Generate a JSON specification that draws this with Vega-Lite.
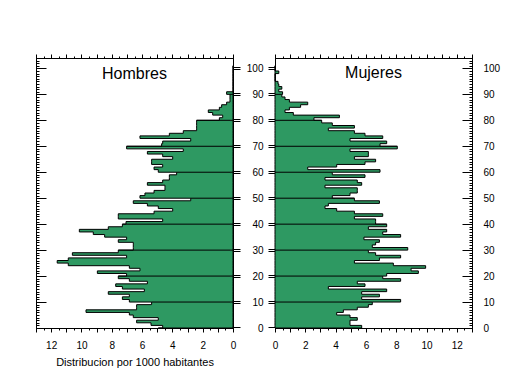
{
  "$schema": "https://vega.github.io/schema/vega-lite/v6.json",
  "padding": {"left": 35, "top": 52, "right": 0, "bottom": 0},
  "background": "white",
  "spacing": 42,
  "bounds": "flush",
  "config": {
    "view": {"stroke": "black", "strokeWidth": 1},
    "font": "Liberation Sans",
    "axis": {"domainColor": "black", "tickColor": "black", "labelColor": "black", "labelFont": "Liberation Sans", "labelFontSize": 10, "grid": false, "titleColor": "black", "titleFont": "Liberation Sans", "titleFontWeight": "normal", "titleFontSize": 11, "labelOverlap": false, "labelFlush": false}
  },
  "datasets": {
    "hombres": [
      {"edad":0,"valor":4.93},{"edad":1,"valor":4.64},{"edad":2,"valor":5.41},{"edad":3,"valor":6.36},{"edad":4,"valor":4.93},{"edad":5,"valor":6.58},{"edad":6,"valor":6.84},{"edad":7,"valor":9.7},{"edad":8,"valor":6.36},{"edad":9,"valor":6.36},
      {"edad":10,"valor":5.37},{"edad":11,"valor":6.84},{"edad":12,"valor":7.3},{"edad":13,"valor":6.84},{"edad":14,"valor":8.23},{"edad":15,"valor":5.85},{"edad":16,"valor":7.3},{"edad":17,"valor":7.74},{"edad":18,"valor":5.65},{"edad":19,"valor":6.84},
      {"edad":20,"valor":7.57},{"edad":21,"valor":7.02},{"edad":22,"valor":8.95},{"edad":23,"valor":6.14},{"edad":24,"valor":6.84},{"edad":25,"valor":10.87},{"edad":26,"valor":11.6},{"edad":27,"valor":10.87},{"edad":28,"valor":7.02},{"edad":29,"valor":10.6},
      {"edad":30,"valor":7.57},{"edad":31,"valor":6.58},{"edad":32,"valor":6.58},{"edad":33,"valor":6.58},{"edad":34,"valor":7.57},{"edad":35,"valor":7.02},{"edad":36,"valor":8.47},{"edad":37,"valor":9.22},{"edad":38,"valor":10.14},{"edad":39,"valor":8.23},
      {"edad":40,"valor":7.3},{"edad":41,"valor":7.06},{"edad":42,"valor":4.64},{"edad":43,"valor":7.57},{"edad":44,"valor":7.57},{"edad":45,"valor":5.21},{"edad":46,"valor":3.98},{"edad":47,"valor":4.93},{"edad":48,"valor":5.65},{"edad":49,"valor":6.58},
      {"edad":50,"valor":2.79},{"edad":51,"valor":6.14},{"edad":52,"valor":5.81},{"edad":53,"valor":5.21},{"edad":54,"valor":4.49},{"edad":55,"valor":4.49},{"edad":56,"valor":5.65},{"edad":57,"valor":4.64},{"edad":58,"valor":4.2},{"edad":59,"valor":4.2},
      {"edad":60,"valor":3.72},{"edad":61,"valor":4.93},{"edad":62,"valor":5.21},{"edad":63,"valor":4.64},{"edad":64,"valor":5.37},{"edad":65,"valor":5.37},{"edad":66,"valor":3.98},{"edad":67,"valor":4.64},{"edad":68,"valor":5.65},{"edad":69,"valor":3.28},
      {"edad":70,"valor":7.02},{"edad":71,"valor":4.71},{"edad":72,"valor":4.64},{"edad":73,"valor":2.79},{"edad":74,"valor":6.14},{"edad":75,"valor":4.2},{"edad":76,"valor":3.28},{"edad":77,"valor":2.4},{"edad":78,"valor":2.4},{"edad":79,"valor":2.4},
      {"edad":80,"valor":2.4},{"edad":81,"valor":0.9},{"edad":82,"valor":0.68},{"edad":83,"valor":1.34},{"edad":84,"valor":1.63},{"edad":85,"valor":0.9},{"edad":86,"valor":0.75},{"edad":87,"valor":0.42},{"edad":88,"valor":0.2},{"edad":89,"valor":0.2},
      {"edad":90,"valor":0.2},{"edad":91,"valor":0.42},{"edad":92,"valor":0},{"edad":93,"valor":0},{"edad":94,"valor":0},{"edad":95,"valor":0},{"edad":96,"valor":0},{"edad":97,"valor":0},{"edad":98,"valor":0},{"edad":99,"valor":0},
      {"edad":100,"valor":0},{"edad":101,"valor":0}
    ],
    "mujeres": [
      {"edad":0,"valor":4.95},{"edad":1,"valor":5.72},{"edad":2,"valor":4.95},{"edad":3,"valor":4.95},{"edad":4,"valor":5.43},{"edad":5,"valor":4.95},{"edad":6,"valor":4.07},{"edad":7,"valor":4.51},{"edad":8,"valor":5.43},{"edad":9,"valor":6.16},
      {"edad":10,"valor":6.42},{"edad":11,"valor":8.29},{"edad":12,"valor":5.72},{"edad":13,"valor":6.89},{"edad":14,"valor":5.72},{"edad":15,"valor":7.37},{"edad":16,"valor":3.52},{"edad":17,"valor":5.94},{"edad":18,"valor":5.43},{"edad":19,"valor":8.29},
      {"edad":20,"valor":7.11},{"edad":21,"valor":7.37},{"edad":22,"valor":9.46},{"edad":23,"valor":8.98},{"edad":24,"valor":9.94},{"edad":25,"valor":7.81},{"edad":26,"valor":5.24},{"edad":27,"valor":6.89},{"edad":28,"valor":8.29},{"edad":29,"valor":6.64},
      {"edad":30,"valor":6.16},{"edad":31,"valor":8.76},{"edad":32,"valor":6.42},{"edad":33,"valor":6.64},{"edad":34,"valor":6.89},{"edad":35,"valor":5.87},{"edad":36,"valor":8.29},{"edad":37,"valor":7.11},{"edad":38,"valor":7.37},{"edad":39,"valor":6.16},
      {"edad":40,"valor":7.37},{"edad":41,"valor":6.64},{"edad":42,"valor":6.64},{"edad":43,"valor":5.24},{"edad":44,"valor":7.11},{"edad":45,"valor":5.24},{"edad":46,"valor":4.07},{"edad":47,"valor":3.3},{"edad":48,"valor":3.52},{"edad":49,"valor":6.89},
      {"edad":50,"valor":5.24},{"edad":51,"valor":3.78},{"edad":52,"valor":4.95},{"edad":53,"valor":5.43},{"edad":54,"valor":5.43},{"edad":55,"valor":3.3},{"edad":56,"valor":5.72},{"edad":57,"valor":5.43},{"edad":58,"valor":3.3},{"edad":59,"valor":5.94},
      {"edad":60,"valor":3.78},{"edad":61,"valor":6.93},{"edad":62,"valor":2.16},{"edad":63,"valor":4.07},{"edad":64,"valor":5.94},{"edad":65,"valor":6.64},{"edad":66,"valor":5.24},{"edad":67,"valor":6.16},{"edad":68,"valor":6.16},{"edad":69,"valor":4.95},
      {"edad":70,"valor":8.07},{"edad":71,"valor":6.93},{"edad":72,"valor":7.37},{"edad":73,"valor":4.95},{"edad":74,"valor":7.11},{"edad":75,"valor":5.94},{"edad":76,"valor":5.24},{"edad":77,"valor":3.52},{"edad":78,"valor":5.24},{"edad":79,"valor":3.78},
      {"edad":80,"valor":3.08},{"edad":81,"valor":2.57},{"edad":82,"valor":4.25},{"edad":83,"valor":1.21},{"edad":84,"valor":0.66},{"edad":85,"valor":0.95},{"edad":86,"valor":1.69},{"edad":87,"valor":2.16},{"edad":88,"valor":0.95},{"edad":89,"valor":0.66},
      {"edad":90,"valor":0.45},{"edad":91,"valor":0.5},{"edad":92,"valor":0.25},{"edad":93,"valor":0.45},{"edad":94,"valor":0.25},{"edad":95,"valor":0.2},{"edad":96,"valor":0},{"edad":97,"valor":0},{"edad":98,"valor":0},{"edad":99,"valor":0.25},
      {"edad":100,"valor":0},{"edad":101,"valor":0}
    ]
  },
  "hconcat": [
    {
      "width": 197,
      "height": 270,
      "data": {"name": "hombres"},
      "title": {"text": "Hombres", "fontSize": 16, "font": "Liberation Sans", "fontWeight": "normal", "color": "black", "anchor": "middle", "frame": "group", "offset": -28},
      "layer": [
        {
          "mark": {"type": "area", "orient": "horizontal", "interpolate": "step-before", "fill": "#2E9962", "fillOpacity": 1, "stroke": "black", "strokeWidth": 1},
          "encoding": {
            "x": {"field": "valor", "type": "quantitative", "stack": null,
              "scale": {"domain": [0, 13], "reverse": true, "nice": false, "zero": true},
              "axis": {"orient": "bottom", "title": "Distribucion por 1000 habitantes", "values": [0,0.5,1,1.5,2,2.5,3,3.5,4,4.5,5,5.5,6,6.5,7,7.5,8,8.5,9,9.5,10,10.5,11,11.5,12,12.5,13],
                "tickSize": {"condition": {"test": "datum.value % 1 === 0", "value": 4}, "value": 2},
                "labelExpr": "datum.value % 2 === 0 && datum.value <= 12 ? toString(datum.value) : ''", "labelPadding": 8, "titlePadding": 6}},
            "y": {"field": "edad", "type": "quantitative",
              "scale": {"domain": [0, 104], "nice": false},
              "axis": {"orient": "left", "title": null, "labels": false,
                "values": [0,1,2,3,4,5,6,7,8,9,10,11,12,13,14,15,16,17,18,19,20,21,22,23,24,25,26,27,28,29,30,31,32,33,34,35,36,37,38,39,40,41,42,43,44,45,46,47,48,49,50,51,52,53,54,55,56,57,58,59,60,61,62,63,64,65,66,67,68,69,70,71,72,73,74,75,76,77,78,79,80,81,82,83,84,85,86,87,88,89,90,91,92,93,94,95,96,97,98,99,100,101,102,103,104],
                "tickSize": {"condition": {"test": "datum.value % 10 === 0", "value": -10}, "value": -3}}}
          }
        },
        {
          "transform": [{"filter": "datum.edad % 10 === 0 && datum.edad > 0 && datum.edad <= 100"}],
          "mark": {"type": "rule", "color": "black", "strokeWidth": 1},
          "encoding": {
            "x": {"field": "valor", "type": "quantitative",
              "scale": {"domain": [0, 13], "reverse": true, "nice": false, "zero": true},
              "axis": {"orient": "top", "title": null, "labels": false, "values": [0,0.5,1,1.5,2,2.5,3,3.5,4,4.5,5,5.5,6,6.5,7,7.5,8,8.5,9,9.5,10,10.5,11,11.5,12,12.5,13],
                "tickSize": {"condition": {"test": "datum.value % 1 === 0", "value": 4}, "value": 2}}},
            "x2": {"datum": 0},
            "y": {"field": "edad", "type": "quantitative",
              "scale": {"domain": [0, 104], "nice": false},
              "axis": {"orient": "right", "title": null, "labels": false,
                "values": [-0.35,0.35,9.65,10.35,19.65,20.35,29.65,30.35,39.65,40.35,49.65,50.35,59.65,60.35,69.65,70.35,79.65,80.35,89.65,90.35,99.65,100.35],
                "tickSize": 7}}
          }
        }
      ],
      "resolve": {"axis": {"x": "independent", "y": "independent"}}
    },
    {
      "width": 197,
      "height": 270,
      "data": {"name": "mujeres"},
      "title": {"text": "Mujeres", "fontSize": 16, "font": "Liberation Sans", "fontWeight": "normal", "color": "black", "anchor": "middle", "frame": "group", "offset": -28},
      "layer": [
        {
          "mark": {"type": "area", "orient": "horizontal", "interpolate": "step-before", "fill": "#2E9962", "fillOpacity": 1, "stroke": "black", "strokeWidth": 1},
          "encoding": {
            "x": {"field": "valor", "type": "quantitative", "stack": null,
              "scale": {"domain": [0, 13], "nice": false, "zero": true},
              "axis": {"orient": "bottom", "title": null, "values": [0,0.5,1,1.5,2,2.5,3,3.5,4,4.5,5,5.5,6,6.5,7,7.5,8,8.5,9,9.5,10,10.5,11,11.5,12,12.5,13],
                "tickSize": {"condition": {"test": "datum.value % 1 === 0", "value": 4}, "value": 2},
                "labelExpr": "datum.value % 2 === 0 && datum.value <= 12 ? toString(datum.value) : ''", "labelPadding": 8}},
            "y": {"field": "edad", "type": "quantitative",
              "scale": {"domain": [0, 104], "nice": false},
              "axis": {"orient": "left", "title": null,
                "values": [-0.35,0.35,9.65,10.35,19.65,20.35,29.65,30.35,39.65,40.35,49.65,50.35,59.65,60.35,69.65,70.35,79.65,80.35,89.65,90.35,99.65,100.35],
                "labelExpr": "datum.value % 10 > 0 && datum.value % 10 < 5 ? toString(round(datum.value)) : ''",
                "labelOffset": 1, "tickSize": 7, "labelPadding": 5}}
          }
        },
        {
          "transform": [{"filter": "datum.edad % 10 === 0 && datum.edad > 0 && datum.edad <= 100"}],
          "mark": {"type": "rule", "color": "black", "strokeWidth": 1},
          "encoding": {
            "x": {"field": "valor", "type": "quantitative",
              "scale": {"domain": [0, 13], "nice": false, "zero": true},
              "axis": {"orient": "top", "title": null, "labels": false, "values": [0,0.5,1,1.5,2,2.5,3,3.5,4,4.5,5,5.5,6,6.5,7,7.5,8,8.5,9,9.5,10,10.5,11,11.5,12,12.5,13],
                "tickSize": {"condition": {"test": "datum.value % 1 === 0", "value": 4}, "value": 2}}},
            "x2": {"datum": 0},
            "y": {"field": "edad", "type": "quantitative",
              "scale": {"domain": [0, 104], "nice": false},
              "axis": {"orient": "right", "title": null,
                "values": [0,1,2,3,4,5,6,7,8,9,10,11,12,13,14,15,16,17,18,19,20,21,22,23,24,25,26,27,28,29,30,31,32,33,34,35,36,37,38,39,40,41,42,43,44,45,46,47,48,49,50,51,52,53,54,55,56,57,58,59,60,61,62,63,64,65,66,67,68,69,70,71,72,73,74,75,76,77,78,79,80,81,82,83,84,85,86,87,88,89,90,91,92,93,94,95,96,97,98,99,100,101,102,103,104],
                "labelExpr": "datum.value % 10 === 0 && datum.value <= 100 ? datum.label : ''",
                "tickSize": {"condition": {"test": "datum.value % 10 === 0", "value": -10}, "value": -3},
                "labelPadding": 21}}
          }
        }
      ],
      "resolve": {"axis": {"x": "independent", "y": "independent"}}
    }
  ]
}
